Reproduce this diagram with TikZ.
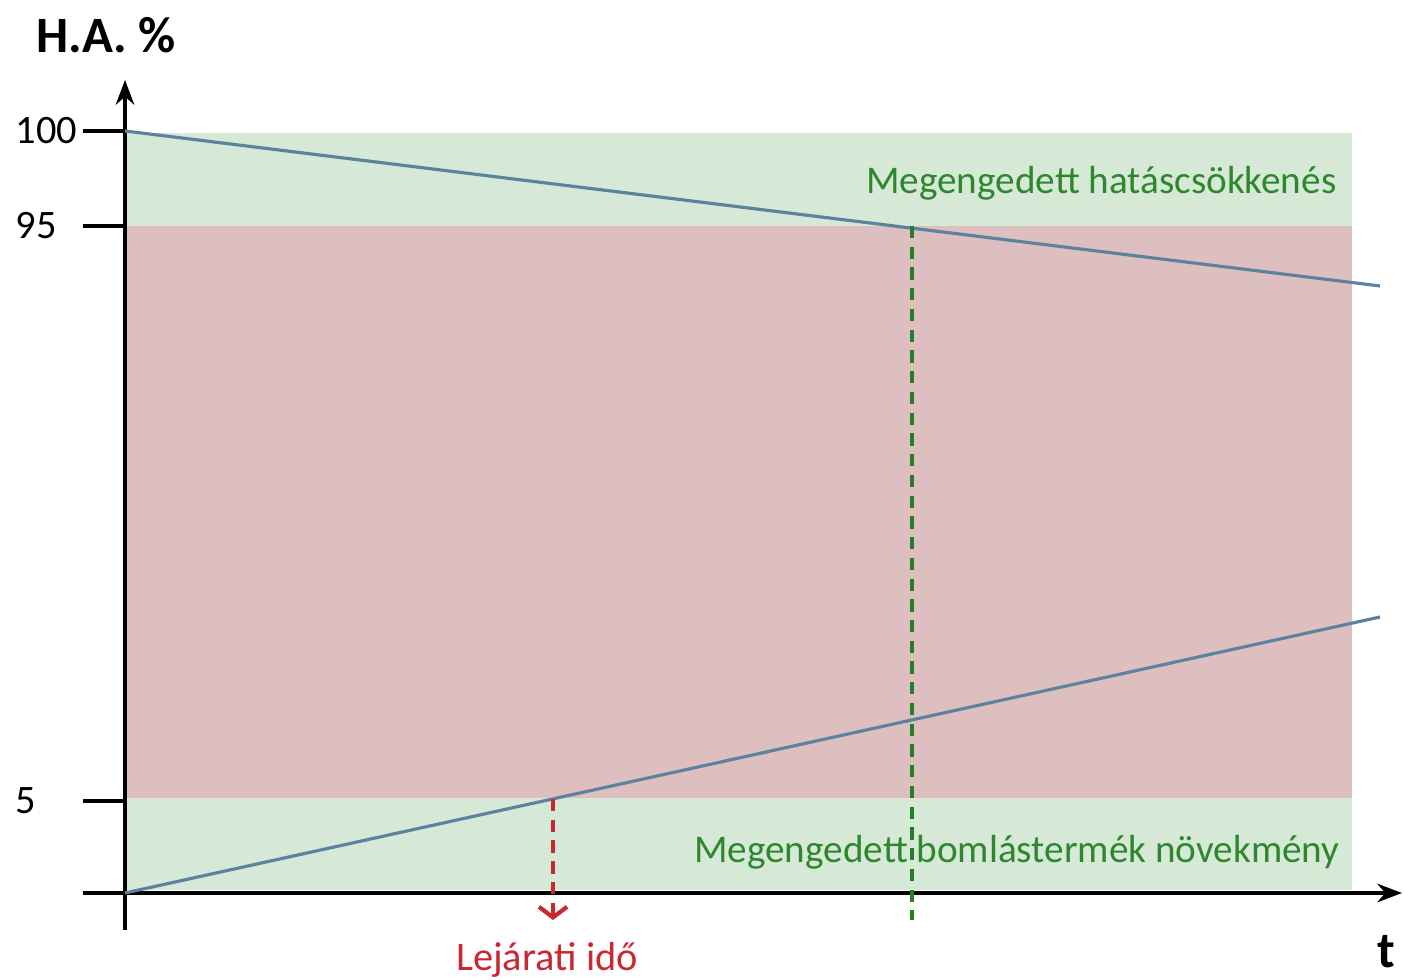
\documentclass[tikz,border=0pt]{standalone}
\usepackage{fontspec}
\setmainfont{Carlito}
\usetikzlibrary{arrows.meta}

\definecolor{zoldsav}{RGB}{214,232,214}
\definecolor{pirossav}{RGB}{221,191,192}
\definecolor{egyenes}{RGB}{92,130,160}
\definecolor{zoldbetu}{RGB}{46,135,46}
\definecolor{zoldszagg}{RGB}{40,125,40}
\definecolor{pirosbetu}{RGB}{200,40,50}

\tikzset{
  tengely/.style={->,>=Stealth,line width=0.9pt,black},
  vonal/.style={line width=0.9pt,color=egyenes},
  szaggatott/.style={line width=1.2pt,dash pattern=on 3.5pt off 2.4pt},
  felirat/.style={font=\fontsize{11.5}{13}\selectfont,inner sep=0pt},
  sávfelirat/.style={font=\fontsize{11.15}{13}\selectfont,inner sep=0pt,text=zoldbetu},
}

\begin{document}
\begin{tikzpicture}[scale=1]
\useasboundingbox (0,0) rectangle (14.04,9.79);

% Savok
\fill[zoldsav]  (1.25,7.53) rectangle (13.52,8.46);
\fill[pirossav] (1.25,1.81) rectangle (13.52,7.53);
\fill[zoldsav]  (1.25,0.89) rectangle (13.52,1.81);

% Tengelyek
\coordinate (yalso) at (1.25,0.49);
\coordinate (yfelso) at (1.25,8.99);
\coordinate (xbal) at (0.83,0.86);
\coordinate (xjobb) at (14.02,0.86);
\draw[tengely] (yalso) -- (yfelso);
\draw[tengely] (xbal) -- (xjobb);

\foreach \y/\szam/\nev in {8.48/100/szaz, 7.53/95/kilenc, 1.78/5/ot} {
  \draw[line width=0.9pt] (0.83,\y) -- (1.25,\y);
  \node[felirat,anchor=west] (\nev) at (0.15,\y) {\szam};
}

\node[font=\fontsize{14.5}{16}\selectfont\bfseries,inner sep=0pt] (ha) at (1.06,9.44) {H.A. \%};
\node[font=\fontsize{14.5}{16}\selectfont\bfseries,inner sep=0pt,anchor=south east] (t) at (13.96,0.1) {t};

% Egyenesek
\coordinate (kezd) at (1.25,8.48);
\coordinate (vegfent) at (13.80,6.93);
\coordinate (origo) at (1.25,0.86);
\coordinate (veglent) at (13.80,3.62);
\draw[vonal] (kezd) -- (vegfent);
\draw[vonal] (origo) -- (veglent);

% Metszespontok
\coordinate (metsz95) at (9.12,7.53);
\coordinate (zoldalja) at (9.12,0.59);
\coordinate (metsz5) at (5.53,1.80);
\coordinate (pirosalja) at (5.53,0.59);
\draw[szaggatott,zoldszagg] (metsz95) -- (zoldalja);
\draw[szaggatott,pirosbetu,->,>={Straight Barb[length=3pt,width=8pt]}] (metsz5) -- (pirosalja);

\node[sávfelirat,anchor=east] (hatas) at (13.37,7.96) {Megengedett hatáscsökkenés};
\node[sávfelirat,anchor=east] (bomlas) at (13.40,1.27) {Megengedett bomlástermék növekmény};
\node[felirat,text=pirosbetu] (lejarat) at (5.47,0.19) {Lejárati idő};

\end{tikzpicture}
\end{document}
